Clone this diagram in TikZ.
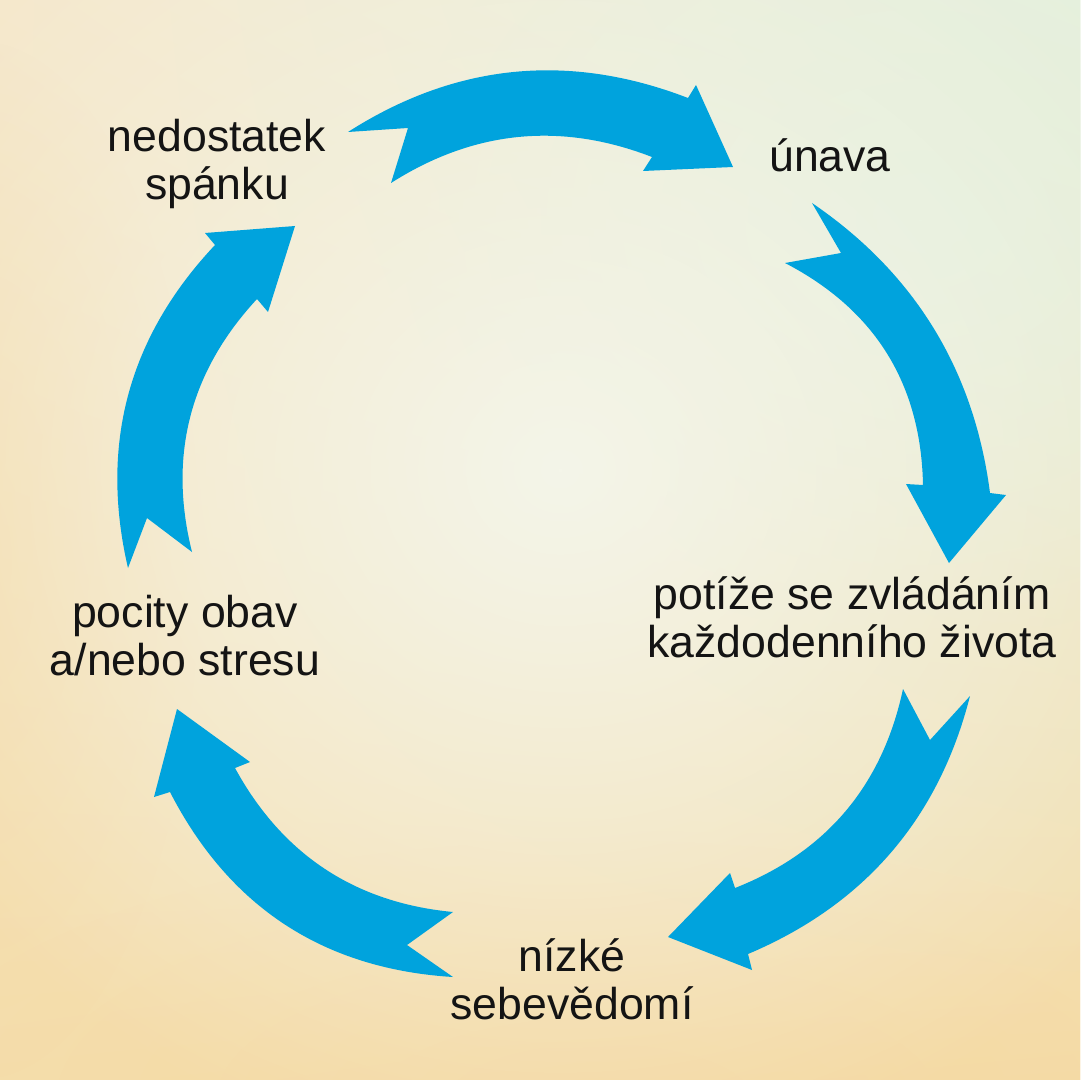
\documentclass[tikz,border=0pt]{standalone}
\usepackage{fontspec}
\setmainfont{Liberation Sans}
\usetikzlibrary{fadings,shadings,calc}
\definecolor{arrowblue}{RGB}{0,163,221}
\definecolor{inktext}{RGB}{20,20,20}
\definecolor{bgUL}{RGB}{246,232,204}
\definecolor{bgUR}{RGB}{230,240,222}
\definecolor{bgLL}{RGB}{245,222,172}
\definecolor{bgLR}{RGB}{245,220,168}
\definecolor{bgglow}{RGB}{244,245,233}
\definecolor{bggreen}{RGB}{228,240,220}
\definecolor{bgyellow}{RGB}{244,214,156}
\tikzfading[name=softglow, inner color=transparent!0, outer color=transparent!100]
% outer edge #1 -(#2)- #3, head #4 #5 #6, inner edge #7 -(#8)- #9
\newcommand\cyclearrow[9]{%
  \fill[arrowblue] #1 .. controls ($#1!0.6667!#2$) and ($#3!0.6667!#2$) .. #3
    -- #4 -- #5 -- #6 -- #7
    .. controls ($#7!0.6667!#8$) and ($#9!0.6667!#8$) .. #9}
\tikzset{
  lbl/.style={font=\fontsize{22.3pt}{24pt}\selectfont, text=inktext, align=center, inner sep=0pt}
}
\begin{document}
\begin{tikzpicture}[x=0.5pt,y=-0.5pt]
  \useasboundingbox (0,0) rectangle (1080,1080);
  % background
  \shade[upper left=bgUL, upper right=bgUR, lower left=bgLL, lower right=bgLR] (0,0) rectangle (1080,1080);
  \fill[bggreen, path fading=softglow] (920,220) ellipse [x radius=520, y radius=420];
  \fill[bgyellow, opacity=0.55, path fading=softglow] (600,1100) ellipse [x radius=700, y radius=260];
  \fill[bgyellow, opacity=0.45, path fading=softglow] (-20,560) ellipse [x radius=220, y radius=520];
  \fill[bgglow, path fading=softglow] (560,470) ellipse [x radius=760, y radius=700];

  % arrows
  \cyclearrow{(348,132)}{(509,29)}{(688,98)}{(696,85)}{(733,167)}{(643,171)}{(652,157)}{(515,104)}{(391,183)} -- (408,128) -- cycle;
  \cyclearrow{(812,203)}{(966,308)}{(990,493)}{(1006,495)}{(949,563)}{(906,484)}{(923,485)}{(920,333)}{(785,263)} -- (841,253) -- cycle;
  \cyclearrow{(970,696)}{(923,880)}{(748,954)}{(752,970)}{(668,937)}{(730,873)}{(735,888)}{(872,834)}{(903,689)} -- (930,740) -- cycle;
  \cyclearrow{(453,977)}{(259,965)}{(170,792)}{(154,797)}{(177,709)}{(250,762)}{(235,768)}{(306,898)}{(453,912)} -- (407,945) -- cycle;
  \cyclearrow{(128,568)}{(85,383)}{(215,245)}{(205,233)}{(295,226)}{(268,312)}{(257,299)}{(156,408)}{(192,552)} -- (147,518) -- cycle;

  % labels
  \node[lbl] (spanek) at (217,164) {nedostatek\\spánku};
  \node[lbl, anchor=base] (unava) at (830,172) {únava};
  \node[lbl] (potize) at (852,617) {potíže se zvládáním\\každodenního života};
  \node[lbl] (obavy) at (185,636) {pocity obav\\a/nebo stresu};
  \node[lbl] (sebe) at (572,979) {nízké\\sebevědomí};
\end{tikzpicture}
\end{document}
